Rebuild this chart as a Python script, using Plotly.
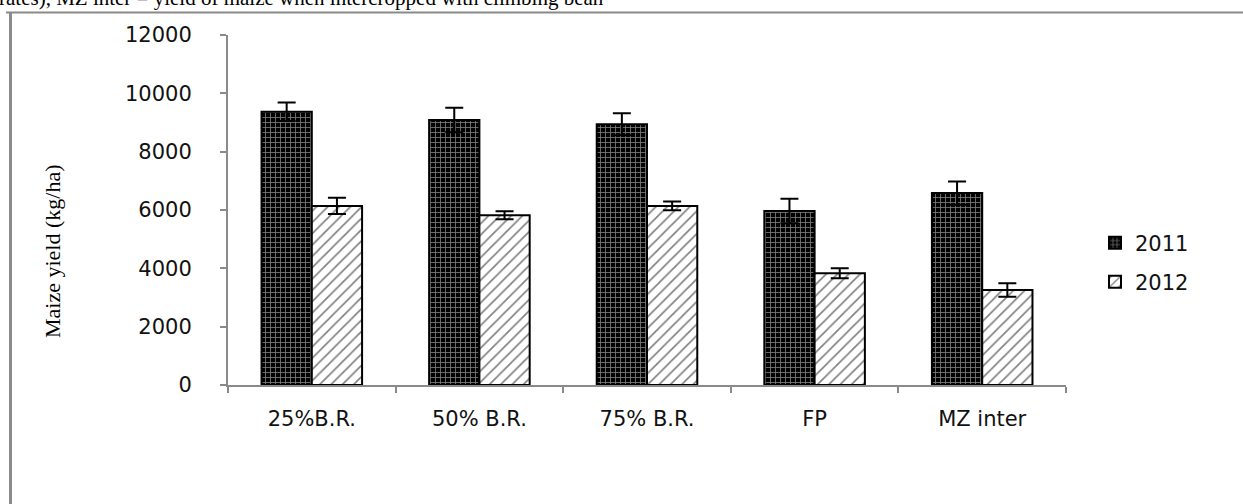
import plotly.graph_objects as go

# Treatments and maize grain yield (kg/ha) with standard errors
treatments = ["25%B.R.", "50% B.R.", "75% B.R.", "FP", "MZ inter"]
yield_2011 = [9370, 9090, 8940, 5970, 6580]
err_2011 = [320, 420, 380, 420, 400]
yield_2012 = [6140, 5820, 6140, 3830, 3260]
err_2012 = [280, 140, 150, 170, 230]
y_ticks = [0, 2000, 4000, 6000, 8000, 10000, 12000]
y_tick_labels = ["0", "2000", "4000", "6000", "8000", "10000", "12000"]

W, H = 1243, 504
L, R, T, B = 228, 177, 35, 119
pw, ph = W - L - R, H - T - B


def px_x(x):
    return (x - L) / pw


def px_y(y):
    return (H - B - y) / ph


axis_grey = "#8a8a8a"
tick_font = dict(family="DejaVu Sans", size=21, color="#111111")

fig = go.Figure()
fig.add_trace(go.Bar(
    x=treatments, y=yield_2011, name="2011", legend="legend",
    marker=dict(color="black", line=dict(color="black", width=2),
                pattern=dict(shape="+", fgcolor="white", bgcolor="black",
                             size=5, solidity=0.3, fillmode="overlay")),
    error_y=dict(type="data", array=err_2011, color="black", thickness=2, width=9),
))
fig.add_trace(go.Bar(
    x=treatments, y=yield_2012, name="2012", legend="legend2",
    marker=dict(color="white", line=dict(color="black", width=2),
                pattern=dict(shape="/", fgcolor="black", bgcolor="white",
                             size=8, solidity=0.2, fillmode="overlay")),
    error_y=dict(type="data", array=err_2012, color="black", thickness=2, width=9),
))

fig.update_layout(
    width=W, height=H,
    margin=dict(l=L, r=R, t=T, b=B, autoexpand=False),
    paper_bgcolor="white", plot_bgcolor="white",
    barmode="group", bargap=0.40, bargroupgap=0,
    font=tick_font,
    showlegend=True,
    legend=dict(x=px_x(1095), y=px_y(243), xanchor="left", yanchor="middle",
                font=tick_font, bgcolor="rgba(0,0,0,0)"),
    legend2=dict(x=px_x(1095), y=px_y(282), xanchor="left", yanchor="middle",
                 font=tick_font, bgcolor="rgba(0,0,0,0)"),
    xaxis=dict(showline=True, linecolor=axis_grey, linewidth=2,
               ticks="outside", tickson="boundaries", ticklen=6,
               tickcolor=axis_grey, tickwidth=2, showgrid=False,
               tickfont=tick_font, ticklabelstandoff=14),
    yaxis=dict(range=[0, 12000], tickvals=y_ticks, ticktext=y_tick_labels,
               showline=True, linecolor=axis_grey, linewidth=2,
               ticks="outside", ticklen=6, tickcolor=axis_grey, tickwidth=2,
               showgrid=False, zeroline=False, tickfont=tick_font,
               ticklabelstandoff=24),
)

# Y-axis title
fig.add_annotation(
    text="Maize yield (kg/ha)", textangle=-90,
    xref="paper", yref="paper", x=px_x(52), y=px_y(251),
    xanchor="center", yanchor="middle", showarrow=False,
    font=dict(family="Liberation Serif", size=22, color="black"),
)

# Caption line running off the top edge
fig.add_annotation(
    text="rates), MZ inter = yield of maize when intercropped with climbing bean",
    xref="paper", yref="paper", x=px_x(-3), y=px_y(-2),
    xanchor="left", yanchor="middle", showarrow=False,
    font=dict(family="Liberation Serif", size=21, color="black"),
)

# Frame around the figure panel
fig.add_shape(type="line", xref="paper", yref="paper",
              x0=px_x(10.5), x1=px_x(10.5), y0=px_y(12), y1=px_y(510),
              line=dict(color=axis_grey, width=3))
fig.add_shape(type="line", xref="paper", yref="paper",
              x0=px_x(6), x1=px_x(1250), y0=px_y(12.5), y1=px_y(12.5),
              line=dict(color=axis_grey, width=2))

fig.write_html("out.html")
